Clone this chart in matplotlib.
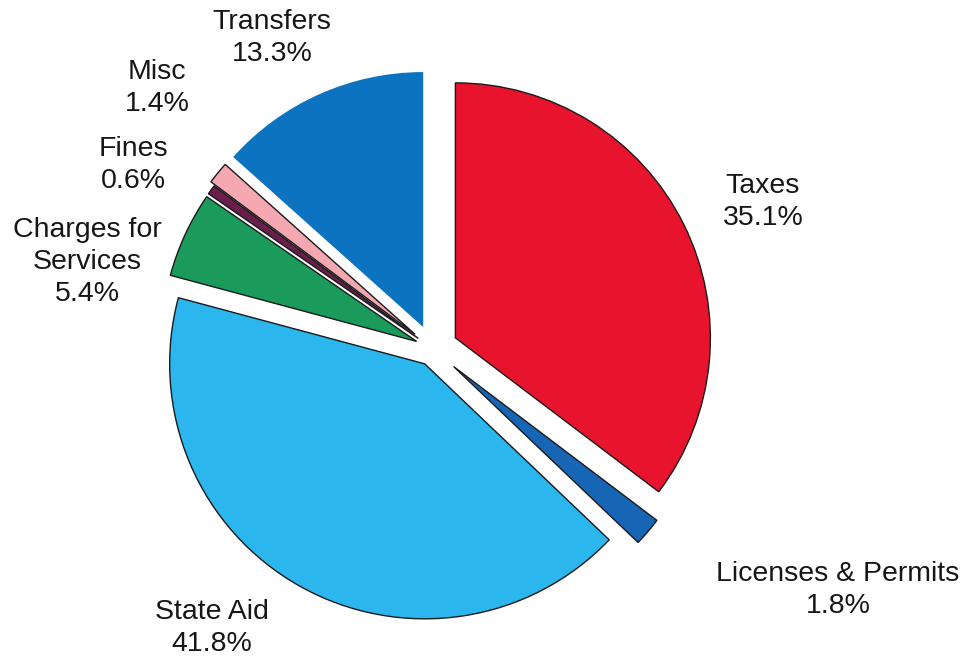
import matplotlib.pyplot as plt

plt.rcParams["font.family"] = ["Liberation Sans", "DejaVu Sans"]

# Revenue shares by source (percent)
categories = ["Taxes", "Licenses & Permits", "State Aid", "Charges for\nServices",
              "Fines", "Misc", "Transfers"]
shares = [35.1, 1.8, 41.8, 5.4, 0.6, 1.4, 13.3]

colors = ["#E8142E", "#1766B5", "#2BB6EE", "#1A9B5C", "#6A1E4C", "#F5A8B2", "#0B73BF"]
# explode offsets in pixels (the axes are set up in pixel units)
explode = [25, 27, 17, 18, 18, 23, 24]
edged = [True, True, True, True, True, True, False]

# label centres in pixel coordinates (y measured from the top)
label_xy = [(763, 202), (838, 590), (212, 628), (87, 262), (133, 165), (157, 88), (272, 38)]

W, H = 966, 660
fig = plt.figure(figsize=(W / 100, H / 100), dpi=100)
ax = fig.add_axes([0, 0, 1, 1])

wedges, _ = ax.pie(
    shares,
    colors=colors,
    explode=explode,
    startangle=90,
    counterclock=False,
    center=(433, H - 349),
    radius=255,
)
for w, e in zip(wedges, edged):
    if e:
        w.set_edgecolor("#1a1a1a")
        w.set_linewidth(1.0)
    else:
        w.set_edgecolor("none")

for name, val, (x, y) in zip(categories, shares, label_xy):
    ax.text(x, H - y, f"{name}\n{val:.1f}%", ha="center", va="center",
            fontsize=20.5, color="#161616", linespacing=1.3)

ax.set_xlim(0, W)
ax.set_ylim(0, H)
ax.set_aspect("auto")
ax.axis("off")

fig.savefig("out.png", dpi=100)
